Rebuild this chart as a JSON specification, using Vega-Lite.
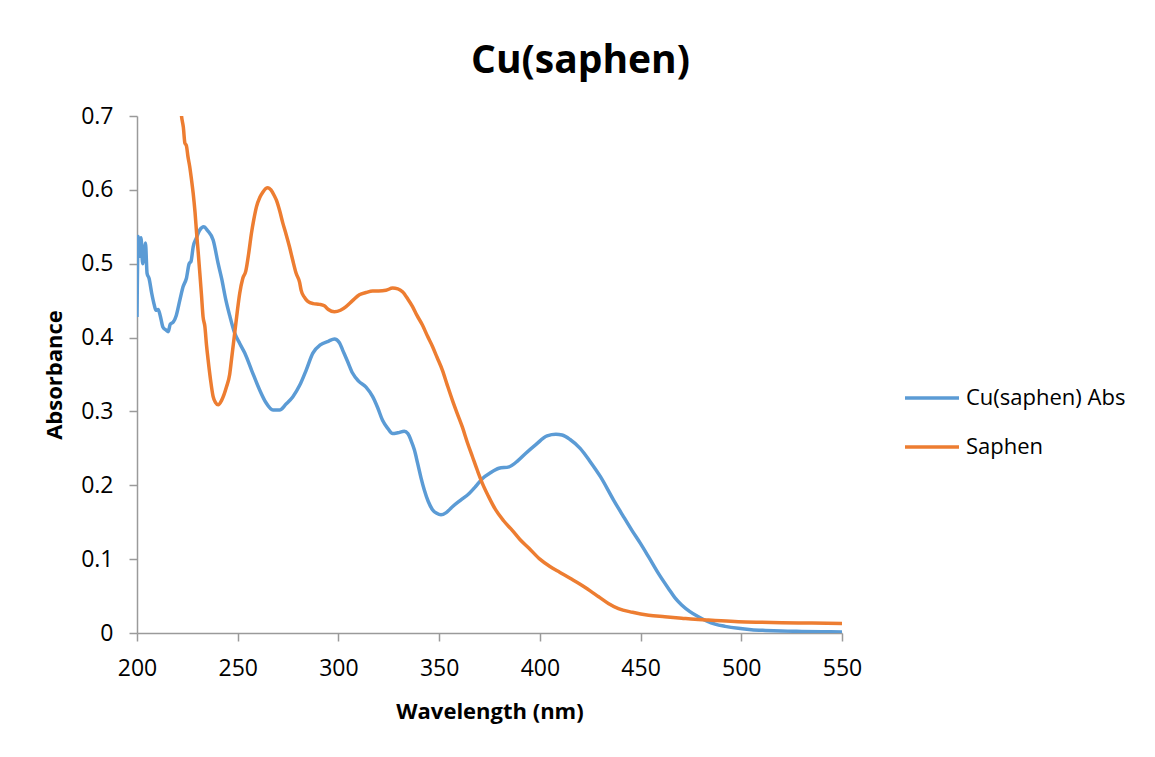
{
  "$schema": "https://vega.github.io/schema/vega-lite/v6.json",
  "width": 705,
  "height": 517,
  "autosize": {"type": "none"},
  "padding": {"left": 137, "top": 116, "right": 313, "bottom": 124},
  "background": "white",
  "config": {"view": {"stroke": null}, "font": "Open Sans"},
  "title": {"text": "Cu(saphen)", "font": "Open Sans", "fontSize": 39, "fontWeight": "bold", "color": "#000000", "anchor": "middle", "dx": 91, "offset": 24},
  "data": {"values": [
    {"wl":200,"abs":0.428,"s":"Cu(saphen) Abs"},{"wl":200.6,"abs":0.537,"s":"Cu(saphen) Abs"},{"wl":201.3,"abs":0.51,"s":"Cu(saphen) Abs"},{"wl":202,"abs":0.535,"s":"Cu(saphen) Abs"},{"wl":202.8,"abs":0.5,"s":"Cu(saphen) Abs"},{"wl":203.5,"abs":0.515,"s":"Cu(saphen) Abs"},{"wl":204.2,"abs":0.528,"s":"Cu(saphen) Abs"},{"wl":205,"abs":0.487,"s":"Cu(saphen) Abs"},{"wl":206,"abs":0.48,"s":"Cu(saphen) Abs"},{"wl":207.3,"abs":0.46,"s":"Cu(saphen) Abs"},{"wl":208.5,"abs":0.445,"s":"Cu(saphen) Abs"},{"wl":209.4,"abs":0.437,"s":"Cu(saphen) Abs"},{"wl":210.5,"abs":0.438,"s":"Cu(saphen) Abs"},{"wl":211.5,"abs":0.43,"s":"Cu(saphen) Abs"},{"wl":212.9,"abs":0.414,"s":"Cu(saphen) Abs"},{"wl":214.5,"abs":0.41,"s":"Cu(saphen) Abs"},{"wl":215.5,"abs":0.408,"s":"Cu(saphen) Abs"},{"wl":216.5,"abs":0.418,"s":"Cu(saphen) Abs"},{"wl":218,"abs":0.421,"s":"Cu(saphen) Abs"},{"wl":219.5,"abs":0.43,"s":"Cu(saphen) Abs"},{"wl":221.3,"abs":0.451,"s":"Cu(saphen) Abs"},{"wl":222.9,"abs":0.469,"s":"Cu(saphen) Abs"},{"wl":224.5,"abs":0.48,"s":"Cu(saphen) Abs"},{"wl":225.9,"abs":0.5,"s":"Cu(saphen) Abs"},{"wl":226.8,"abs":0.503,"s":"Cu(saphen) Abs"},{"wl":227.9,"abs":0.523,"s":"Cu(saphen) Abs"},{"wl":229.5,"abs":0.535,"s":"Cu(saphen) Abs"},{"wl":231,"abs":0.545,"s":"Cu(saphen) Abs"},{"wl":233.2,"abs":0.55,"s":"Cu(saphen) Abs"},{"wl":235,"abs":0.545,"s":"Cu(saphen) Abs"},{"wl":237.8,"abs":0.532,"s":"Cu(saphen) Abs"},{"wl":240.3,"abs":0.5,"s":"Cu(saphen) Abs"},{"wl":242,"abs":0.48,"s":"Cu(saphen) Abs"},{"wl":244.1,"abs":0.451,"s":"Cu(saphen) Abs"},{"wl":246,"abs":0.43,"s":"Cu(saphen) Abs"},{"wl":248.5,"abs":0.406,"s":"Cu(saphen) Abs"},{"wl":251,"abs":0.392,"s":"Cu(saphen) Abs"},{"wl":253.5,"abs":0.379,"s":"Cu(saphen) Abs"},{"wl":257,"abs":0.355,"s":"Cu(saphen) Abs"},{"wl":260.9,"abs":0.329,"s":"Cu(saphen) Abs"},{"wl":264,"abs":0.312,"s":"Cu(saphen) Abs"},{"wl":267.5,"abs":0.302,"s":"Cu(saphen) Abs"},{"wl":270.8,"abs":0.302,"s":"Cu(saphen) Abs"},{"wl":274,"abs":0.31,"s":"Cu(saphen) Abs"},{"wl":277.4,"abs":0.32,"s":"Cu(saphen) Abs"},{"wl":280.7,"abs":0.335,"s":"Cu(saphen) Abs"},{"wl":284,"abs":0.356,"s":"Cu(saphen) Abs"},{"wl":287.3,"abs":0.379,"s":"Cu(saphen) Abs"},{"wl":291,"abs":0.39,"s":"Cu(saphen) Abs"},{"wl":295,"abs":0.395,"s":"Cu(saphen) Abs"},{"wl":298,"abs":0.398,"s":"Cu(saphen) Abs"},{"wl":300.5,"abs":0.393,"s":"Cu(saphen) Abs"},{"wl":302.1,"abs":0.383,"s":"Cu(saphen) Abs"},{"wl":304.5,"abs":0.368,"s":"Cu(saphen) Abs"},{"wl":307,"abs":0.352,"s":"Cu(saphen) Abs"},{"wl":310,"abs":0.341,"s":"Cu(saphen) Abs"},{"wl":313.7,"abs":0.333,"s":"Cu(saphen) Abs"},{"wl":317,"abs":0.32,"s":"Cu(saphen) Abs"},{"wl":319.5,"abs":0.305,"s":"Cu(saphen) Abs"},{"wl":321.9,"abs":0.288,"s":"Cu(saphen) Abs"},{"wl":324.5,"abs":0.277,"s":"Cu(saphen) Abs"},{"wl":326.9,"abs":0.27,"s":"Cu(saphen) Abs"},{"wl":329.5,"abs":0.271,"s":"Cu(saphen) Abs"},{"wl":332.7,"abs":0.273,"s":"Cu(saphen) Abs"},{"wl":334.5,"abs":0.27,"s":"Cu(saphen) Abs"},{"wl":336,"abs":0.261,"s":"Cu(saphen) Abs"},{"wl":337.7,"abs":0.248,"s":"Cu(saphen) Abs"},{"wl":339.3,"abs":0.23,"s":"Cu(saphen) Abs"},{"wl":341,"abs":0.21,"s":"Cu(saphen) Abs"},{"wl":342.6,"abs":0.194,"s":"Cu(saphen) Abs"},{"wl":344.6,"abs":0.178,"s":"Cu(saphen) Abs"},{"wl":346.7,"abs":0.167,"s":"Cu(saphen) Abs"},{"wl":348.8,"abs":0.162,"s":"Cu(saphen) Abs"},{"wl":350.9,"abs":0.16,"s":"Cu(saphen) Abs"},{"wl":353.5,"abs":0.163,"s":"Cu(saphen) Abs"},{"wl":356.6,"abs":0.171,"s":"Cu(saphen) Abs"},{"wl":360.7,"abs":0.18,"s":"Cu(saphen) Abs"},{"wl":364.9,"abs":0.189,"s":"Cu(saphen) Abs"},{"wl":368,"abs":0.198,"s":"Cu(saphen) Abs"},{"wl":371.4,"abs":0.209,"s":"Cu(saphen) Abs"},{"wl":375.5,"abs":0.217,"s":"Cu(saphen) Abs"},{"wl":379.7,"abs":0.223,"s":"Cu(saphen) Abs"},{"wl":384.7,"abs":0.225,"s":"Cu(saphen) Abs"},{"wl":389,"abs":0.233,"s":"Cu(saphen) Abs"},{"wl":392.9,"abs":0.243,"s":"Cu(saphen) Abs"},{"wl":398,"abs":0.255,"s":"Cu(saphen) Abs"},{"wl":403.6,"abs":0.267,"s":"Cu(saphen) Abs"},{"wl":408,"abs":0.269,"s":"Cu(saphen) Abs"},{"wl":411,"abs":0.268,"s":"Cu(saphen) Abs"},{"wl":415,"abs":0.262,"s":"Cu(saphen) Abs"},{"wl":420,"abs":0.25,"s":"Cu(saphen) Abs"},{"wl":425,"abs":0.232,"s":"Cu(saphen) Abs"},{"wl":430,"abs":0.212,"s":"Cu(saphen) Abs"},{"wl":436.6,"abs":0.18,"s":"Cu(saphen) Abs"},{"wl":441,"abs":0.16,"s":"Cu(saphen) Abs"},{"wl":445.7,"abs":0.139,"s":"Cu(saphen) Abs"},{"wl":450,"abs":0.121,"s":"Cu(saphen) Abs"},{"wl":454,"abs":0.103,"s":"Cu(saphen) Abs"},{"wl":459,"abs":0.08,"s":"Cu(saphen) Abs"},{"wl":463.9,"abs":0.06,"s":"Cu(saphen) Abs"},{"wl":467,"abs":0.048,"s":"Cu(saphen) Abs"},{"wl":470.4,"abs":0.038,"s":"Cu(saphen) Abs"},{"wl":474.5,"abs":0.029,"s":"Cu(saphen) Abs"},{"wl":478.7,"abs":0.022,"s":"Cu(saphen) Abs"},{"wl":483,"abs":0.016,"s":"Cu(saphen) Abs"},{"wl":487,"abs":0.012,"s":"Cu(saphen) Abs"},{"wl":492,"abs":0.009,"s":"Cu(saphen) Abs"},{"wl":498.5,"abs":0.0063,"s":"Cu(saphen) Abs"},{"wl":505,"abs":0.0045,"s":"Cu(saphen) Abs"},{"wl":512,"abs":0.0035,"s":"Cu(saphen) Abs"},{"wl":520,"abs":0.0027,"s":"Cu(saphen) Abs"},{"wl":530,"abs":0.0022,"s":"Cu(saphen) Abs"},{"wl":540,"abs":0.0018,"s":"Cu(saphen) Abs"},{"wl":550,"abs":0.0015,"s":"Cu(saphen) Abs"},
    {"wl":221.6,"abs":0.715,"s":"Saphen"},{"wl":222.1,"abs":0.7,"s":"Saphen"},{"wl":223,"abs":0.685,"s":"Saphen"},{"wl":223.8,"abs":0.663,"s":"Saphen"},{"wl":224.5,"abs":0.66,"s":"Saphen"},{"wl":225.3,"abs":0.645,"s":"Saphen"},{"wl":226.2,"abs":0.631,"s":"Saphen"},{"wl":227,"abs":0.615,"s":"Saphen"},{"wl":227.9,"abs":0.595,"s":"Saphen"},{"wl":228.8,"abs":0.57,"s":"Saphen"},{"wl":229.6,"abs":0.541,"s":"Saphen"},{"wl":230.4,"abs":0.515,"s":"Saphen"},{"wl":231.2,"abs":0.487,"s":"Saphen"},{"wl":232,"abs":0.458,"s":"Saphen"},{"wl":232.8,"abs":0.428,"s":"Saphen"},{"wl":233.7,"abs":0.415,"s":"Saphen"},{"wl":234.5,"abs":0.39,"s":"Saphen"},{"wl":235.3,"abs":0.37,"s":"Saphen"},{"wl":236.5,"abs":0.343,"s":"Saphen"},{"wl":237.8,"abs":0.32,"s":"Saphen"},{"wl":239,"abs":0.312,"s":"Saphen"},{"wl":240.3,"abs":0.309,"s":"Saphen"},{"wl":242,"abs":0.315,"s":"Saphen"},{"wl":244.4,"abs":0.333,"s":"Saphen"},{"wl":246,"abs":0.35,"s":"Saphen"},{"wl":246.9,"abs":0.37,"s":"Saphen"},{"wl":248.5,"abs":0.406,"s":"Saphen"},{"wl":250,"abs":0.44,"s":"Saphen"},{"wl":251,"abs":0.46,"s":"Saphen"},{"wl":252.5,"abs":0.48,"s":"Saphen"},{"wl":254,"abs":0.49,"s":"Saphen"},{"wl":255.5,"abs":0.515,"s":"Saphen"},{"wl":256.8,"abs":0.541,"s":"Saphen"},{"wl":258,"abs":0.56,"s":"Saphen"},{"wl":259.3,"abs":0.577,"s":"Saphen"},{"wl":261,"abs":0.59,"s":"Saphen"},{"wl":262.5,"abs":0.597,"s":"Saphen"},{"wl":264,"abs":0.602,"s":"Saphen"},{"wl":265,"abs":0.603,"s":"Saphen"},{"wl":266.5,"abs":0.6,"s":"Saphen"},{"wl":268,"abs":0.593,"s":"Saphen"},{"wl":269.2,"abs":0.586,"s":"Saphen"},{"wl":270.8,"abs":0.572,"s":"Saphen"},{"wl":272.4,"abs":0.555,"s":"Saphen"},{"wl":274,"abs":0.54,"s":"Saphen"},{"wl":275.7,"abs":0.523,"s":"Saphen"},{"wl":277.3,"abs":0.505,"s":"Saphen"},{"wl":279,"abs":0.487,"s":"Saphen"},{"wl":280.7,"abs":0.475,"s":"Saphen"},{"wl":281.5,"abs":0.464,"s":"Saphen"},{"wl":283,"abs":0.455,"s":"Saphen"},{"wl":284.8,"abs":0.449,"s":"Saphen"},{"wl":287.5,"abs":0.446,"s":"Saphen"},{"wl":290.6,"abs":0.445,"s":"Saphen"},{"wl":293,"abs":0.443,"s":"Saphen"},{"wl":295,"abs":0.438,"s":"Saphen"},{"wl":298,"abs":0.435,"s":"Saphen"},{"wl":301,"abs":0.437,"s":"Saphen"},{"wl":303.8,"abs":0.442,"s":"Saphen"},{"wl":307,"abs":0.45,"s":"Saphen"},{"wl":310.4,"abs":0.458,"s":"Saphen"},{"wl":313.7,"abs":0.461,"s":"Saphen"},{"wl":317,"abs":0.463,"s":"Saphen"},{"wl":320,"abs":0.463,"s":"Saphen"},{"wl":323.6,"abs":0.464,"s":"Saphen"},{"wl":326.9,"abs":0.467,"s":"Saphen"},{"wl":329.5,"abs":0.466,"s":"Saphen"},{"wl":331.8,"abs":0.462,"s":"Saphen"},{"wl":334.5,"abs":0.452,"s":"Saphen"},{"wl":336.8,"abs":0.442,"s":"Saphen"},{"wl":339,"abs":0.43,"s":"Saphen"},{"wl":341.7,"abs":0.417,"s":"Saphen"},{"wl":344.2,"abs":0.402,"s":"Saphen"},{"wl":346.7,"abs":0.388,"s":"Saphen"},{"wl":349,"abs":0.373,"s":"Saphen"},{"wl":351.6,"abs":0.356,"s":"Saphen"},{"wl":354,"abs":0.336,"s":"Saphen"},{"wl":356.6,"abs":0.315,"s":"Saphen"},{"wl":359,"abs":0.297,"s":"Saphen"},{"wl":361.5,"abs":0.279,"s":"Saphen"},{"wl":364,"abs":0.258,"s":"Saphen"},{"wl":366.5,"abs":0.239,"s":"Saphen"},{"wl":369,"abs":0.22,"s":"Saphen"},{"wl":371.4,"abs":0.203,"s":"Saphen"},{"wl":374.5,"abs":0.185,"s":"Saphen"},{"wl":378,"abs":0.167,"s":"Saphen"},{"wl":382,"abs":0.152,"s":"Saphen"},{"wl":386.3,"abs":0.139,"s":"Saphen"},{"wl":390,"abs":0.127,"s":"Saphen"},{"wl":394.5,"abs":0.115,"s":"Saphen"},{"wl":400,"abs":0.1,"s":"Saphen"},{"wl":405,"abs":0.09,"s":"Saphen"},{"wl":410,"abs":0.082,"s":"Saphen"},{"wl":415,"abs":0.074,"s":"Saphen"},{"wl":420,"abs":0.066,"s":"Saphen"},{"wl":425,"abs":0.057,"s":"Saphen"},{"wl":429.2,"abs":0.049,"s":"Saphen"},{"wl":434,"abs":0.04,"s":"Saphen"},{"wl":439,"abs":0.033,"s":"Saphen"},{"wl":446,"abs":0.028,"s":"Saphen"},{"wl":454,"abs":0.024,"s":"Saphen"},{"wl":462,"abs":0.022,"s":"Saphen"},{"wl":470.4,"abs":0.02,"s":"Saphen"},{"wl":477,"abs":0.0185,"s":"Saphen"},{"wl":483.7,"abs":0.0176,"s":"Saphen"},{"wl":490,"abs":0.0165,"s":"Saphen"},{"wl":498.5,"abs":0.0153,"s":"Saphen"},{"wl":510,"abs":0.0145,"s":"Saphen"},{"wl":520,"abs":0.014,"s":"Saphen"},{"wl":535,"abs":0.0135,"s":"Saphen"},{"wl":550,"abs":0.013,"s":"Saphen"}
  ]},
  "mark": {"type": "line", "strokeWidth": 3.5, "clip": true, "interpolate": "monotone"},
  "encoding": {
    "x": {"field": "wl", "type": "quantitative",
      "scale": {"domain": [200, 550], "nice": false, "zero": false},
      "axis": {"title": "Wavelength (nm)", "values": [200,250,300,350,400,450,500,550], "grid": false,
        "domainColor": "#9a9a9a", "domainWidth": 1.5, "tickColor": "#9a9a9a", "tickWidth": 1.5, "tickSize": 8,
        "labelFont": "Open Sans", "labelFontSize": 23, "labelColor": "#000000", "labelPadding": 16,
        "titleFont": "Open Sans", "titleFontSize": 22, "titleFontWeight": "bold", "titleColor": "#000000", "titlePadding": 21, "labelFlush": false}},
    "y": {"field": "abs", "type": "quantitative",
      "scale": {"domain": [0, 0.7], "nice": false},
      "axis": {"title": "Absorbance", "values": [0,0.1,0.2,0.3,0.4,0.5,0.6,0.7], "format": ".1~f", "grid": false,
        "domainColor": "#9a9a9a", "domainWidth": 1.5, "tickColor": "#9a9a9a", "tickWidth": 1.5, "tickSize": 8,
        "labelFont": "Open Sans", "labelFontSize": 23, "labelColor": "#000000", "labelPadding": 16,
        "titleFont": "Open Sans", "titleFontSize": 22, "titleFontWeight": "bold", "titleColor": "#000000", "titlePadding": 14, "labelFlush": false}},
    "color": {"field": "s", "type": "nominal",
      "scale": {"domain": ["Cu(saphen) Abs", "Saphen"], "range": ["#5B9BD5", "#ED7D31"]},
      "legend": {"title": null, "orient": "none", "legendX": 766, "legendY": 269, "symbolType": "stroke", "symbolSize": 2916, "symbolStrokeWidth": 3.5,
        "clipHeight": 26, "rowPadding": 23, "labelFont": "Open Sans", "labelFontSize": 22, "labelColor": "#000000", "labelOffset": 5}}
  }
}
